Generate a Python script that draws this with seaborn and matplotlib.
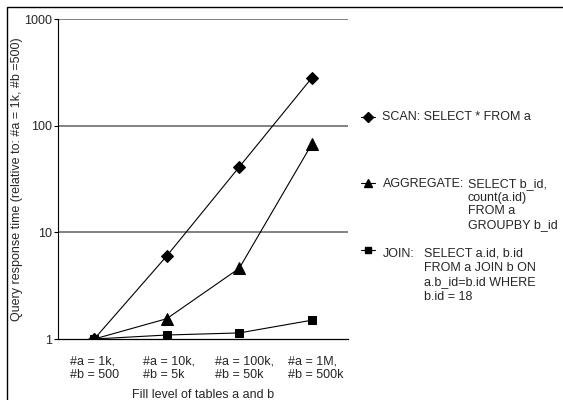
import pandas as pd
import seaborn as sns
import matplotlib.pyplot as plt
import matplotlib.transforms as mtransforms
from matplotlib.lines import Line2D
from matplotlib.patches import Rectangle

# values (log scale, relative to first level)
levels = ["#a = 1k,\n#b = 500", "#a = 10k,\n#b = 5k", "#a = 100k,\n#b = 50k", "#a = 1M,\n#b = 500k"]
scan = [1.0, 6.0, 41.0, 280.0]
aggregate = [1.0, 1.55, 4.6, 67.0]
join = [1.0, 1.09, 1.14, 1.5]

series = {"SCAN": scan, "AGGREGATE": aggregate, "JOIN": join}
rows = []
for name, vals in series.items():
    for i, v in enumerate(vals):
        rows.append({"level": i, "time": v, "query": name})
data = pd.DataFrame(rows)

sns.set_style("white")
plt.rcParams['font.family'] = ['Liberation Sans', 'DejaVu Sans']
plt.rcParams['font.size'] = 9

W, H = 563, 400
fig = plt.figure(figsize=(5.63, 4.0), dpi=100)
ax = fig.add_axes([58/W, 1-339/H, 290/W, 320/H])

marks = {"SCAN": "D", "AGGREGATE": "^", "JOIN": "s"}
sizes = {"SCAN": 6.5, "AGGREGATE": 8, "JOIN": 5.5}
for name in series:
    sub = data[data["query"] == name]
    sns.lineplot(data=sub, x="level", y="time", ax=ax, color="black", lw=0.8,
                 marker=marks[name], markersize=sizes[name], markeredgecolor="black",
                 legend=False)

ax.set_yscale("log")
ax.set_ylim(1, 1000)
ax.set_xlim(-0.5, 3.5)
ax.set_yticks([1, 10, 100, 1000])
ax.set_yticklabels(["1", "10", "100", "1000"])
ax.minorticks_off()
ax.set_xticks(range(len(levels)))
ax.set_xticklabels(levels, ha="left", linespacing=1.1)
ax.tick_params(axis="x", length=0, pad=12)
ax.tick_params(axis="y", length=3, width=0.8, color="black", direction="out", left=True, pad=1)
for y in [10, 100, 1000]:
    ax.axhline(y, color="#777777", lw=1.3, zorder=0)
for s in ["top", "right"]:
    ax.spines[s].set_visible(False)
ax.spines["left"].set_color("black")
ax.spines["left"].set_linewidth(0.8)
ax.spines["bottom"].set_color("black")
ax.spines["bottom"].set_linewidth(0.9)
ax.set_xlabel("Fill level of tables a and b", labelpad=6)
ax.set_ylabel("Query response time (relative to: #a = 1k, #b =500)")
ax.yaxis.set_label_coords((23-58)/290, 0.5)

# x tick labels start a bit left of each point
offset = mtransforms.ScaledTranslation(-24/100, 0, fig.dpi_scale_trans)
for lbl in ax.get_xticklabels():
    lbl.set_transform(lbl.get_transform() + offset)

# legend keys and texts
def key(xc, yc, m, ms):
    fig.add_artist(Line2D([(xc-7)/W, (xc+7)/W], [1-yc/H, 1-yc/H], color="black", lw=0.8))
    fig.add_artist(Line2D([xc/W], [1-yc/H], marker=m, markersize=ms, color="black", lw=0))

key(368, 117, "D", 5)
fig.text(382/W, 1-117/H, "SCAN: SELECT * FROM a", va="center")
key(368, 183, "^", 6)
fig.text(383/W, 1-184/H, "AGGREGATE:", va="center")
fig.text(468/W, 1-184/H, "SELECT b_id,", va="center")
for j, t in enumerate(["count(a.id)", "FROM a", "GROUPBY b_id"]):
    fig.text(468/W, 1-(197.5+j*13.7)/H, t, va="center")
key(368, 250, "s", 4)
fig.text(383/W, 1-254/H, "JOIN:", va="center")
for j, t in enumerate(["SELECT a.id, b.id", "FROM a JOIN b ON", "a.b_id=b.id WHERE", "b.id = 18"]):
    fig.text(424/W, 1-(254+j*14.2)/H, t, va="center")

fig.add_artist(Rectangle((7/W, -0.02), 1.0, 1-7/H+0.02, fill=False, edgecolor="black", lw=1.0))

fig.savefig("out.png", dpi=100)
